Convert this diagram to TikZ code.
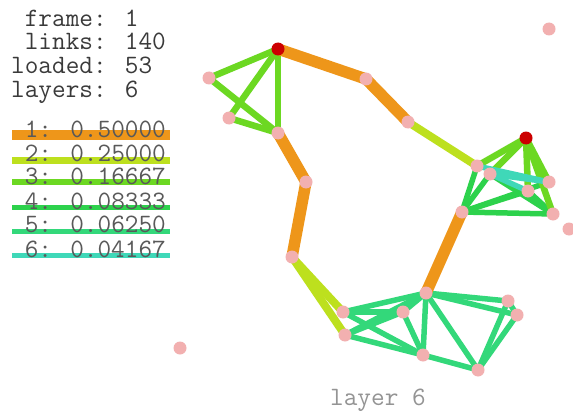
\documentclass[tikz,border=0pt]{standalone}
\definecolor{cA}{HTML}{EE961A}
\definecolor{cB}{HTML}{BDE01E}
\definecolor{cC}{HTML}{6CD822}
\definecolor{cD}{HTML}{2DD24C}
\definecolor{cE}{HTML}{33D87A}
\definecolor{cF}{HTML}{3FD8B8}
\definecolor{pinkdot}{HTML}{F2B0B0}
\definecolor{reddot}{HTML}{CC0000}
\definecolor{txt}{HTML}{3A3A3A}
\begin{document}
\begin{tikzpicture}[x=1pt,y=-1pt,
  lA/.style={draw=cA,line width=11.5pt,line cap=round},
  lB/.style={draw=cB,line width=8pt,line cap=round},
  lC/.style={draw=cC,line width=6.5pt,line cap=round},
  lD/.style={draw=cD,line width=5.5pt,line cap=round},
  lE/.style={draw=cE,line width=5.5pt,line cap=round},
  lF/.style={draw=cF,line width=5.5pt,line cap=round},
  dot/.style={circle,fill=pinkdot,inner sep=0pt,minimum size=13pt},
  hub/.style={circle,fill=reddot,inner sep=0pt,minimum size=13pt},
  mono/.style={font=\ttfamily\fontsize{26.5}{30}\selectfont,inner sep=0pt,anchor=base west},
  hdr/.style={mono,text=txt},
  leg/.style={mono,text=black!65}]
\useasboundingbox[fill=white] (0,0) rectangle (573,412);
% vertices
\coordinate (R1) at (278,49);
\coordinate (A) at (209,78);
\coordinate (B) at (229,118);
\coordinate (C) at (278,133);
\coordinate (D) at (366,79);
\coordinate (E) at (408,122);
\coordinate (F) at (306,182);
\coordinate (G) at (292,257);
\coordinate (H) at (343,312);
\coordinate (I) at (345,335);
\coordinate (J) at (526,138);
\coordinate (K) at (477,166);
\coordinate (L) at (490,174);
\coordinate (M) at (549,182);
\coordinate (N) at (528,191);
\coordinate (O) at (462,212);
\coordinate (P) at (553,214);
\coordinate (Q) at (569,229);
\coordinate (R) at (549,29);
\coordinate (S) at (180,348);
\coordinate (T) at (426,293);
\coordinate (U) at (403,312);
\coordinate (V) at (508,301);
\coordinate (W) at (517,315);
\coordinate (X) at (423,355);
\coordinate (Y) at (478,370);
% layer 5
\foreach \a/\b in {H/T,H/U,H/X,I/U,I/T,I/X,U/X,U/T,T/X,T/V,T/W,T/Y,V/W,V/Y,W/Y,X/Y}
  \draw[lE] (\a) -- (\b);
% layer 4
\foreach \a/\b in {K/O,L/O,O/N,O/P,N/P,L/P,O/M}
  \draw[lD] (\a) -- (\b);
% layer 3
\foreach \a/\b in {R1/A,R1/B,R1/C,A/C,B/C,J/K,J/L,J/M,J/N,J/P}
  \draw[lC] (\a) -- (\b);
% layer 6
\foreach \a/\b in {K/M,L/M,L/N}
  \draw[lF] (\a) -- (\b);
% layer 2
\foreach \a/\b in {E/K,G/H,G/I}
  \draw[lB] (\a) -- (\b);
% layer 1
\foreach \a/\b in {R1/D,D/E,C/F,F/G,O/T}
  \draw[lA] (\a) -- (\b);
% vertex dots
\foreach \v in {A,B,C,D,E,F,G,H,I,K,L,M,N,O,P,Q,R,S,T,U,V,W,X,Y}
  \node[dot] (n\v) at (\v) {};
\node[hub] (nR1) at (R1) {};
\node[hub] (nJ) at (J) {};
% header text
\node[hdr] (t1) at (11,27) {\ frame: 1};
\node[hdr] (t2) at (11,50) {\ links: 140};
\node[hdr] (t3) at (11,74) {loaded: 53};
\node[hdr] (t4) at (11,97) {layers: 6};
% legend bars
\fill[cA] (12,130) rectangle (170,140);
\fill[cB] (12,156.5) rectangle (170,163.5);
\fill[cC] (12,179) rectangle (170,185);
\fill[cD] (12,205) rectangle (170,210);
\fill[cE] (12,228.5) rectangle (170,233.5);
\fill[cF] (12,253) rectangle (170,258);
\begin{scope}
\clip (0,110) rectangle (170,265);
\node[leg] (g1) at (11,137) {\ 1: 0.50000};
\node[leg] (g2) at (11,161) {\ 2: 0.25000};
\node[leg] (g3) at (11,184.5) {\ 3: 0.16667};
\node[leg] (g4) at (11,209) {\ 4: 0.08333};
\node[leg] (g5) at (11,232.5) {\ 5: 0.06250};
\node[leg] (g6) at (11,257) {\ 6: 0.04167};
\end{scope}
\node[mono,text=black!42] (foot) at (330,405) {layer 6};
\end{tikzpicture}
\end{document}
